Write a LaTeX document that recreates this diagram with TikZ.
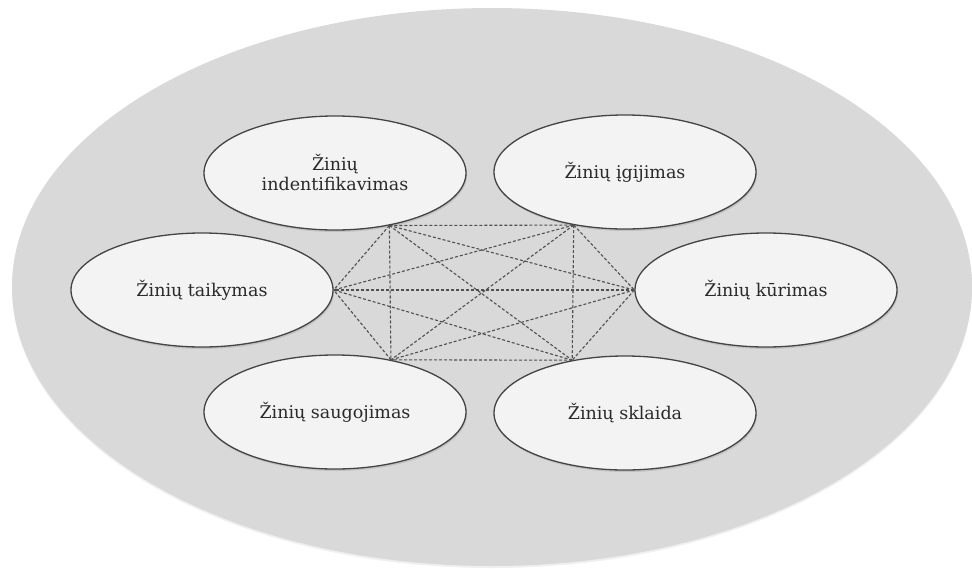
\documentclass[tikz,border=0pt]{standalone}
\usepackage{fontspec}
\setmainfont{DejaVu Serif}
\usetikzlibrary{shapes.geometric,shadows}
\definecolor{bgfill}{HTML}{D9D9D9}
\definecolor{nodefill}{HTML}{F3F3F3}
\definecolor{edgecol}{HTML}{444444}
\definecolor{dashcol}{HTML}{505050}
\definecolor{txtcol}{HTML}{2A2A2A}
\tikzset{
  bigell/.style={ellipse, fill=bgfill, draw=none, minimum width=960pt, minimum height=558pt, inner sep=0pt,
    drop shadow={opacity=0.12, shadow xshift=0pt, shadow yshift=-2pt}},
  zell/.style={ellipse, fill=nodefill, draw=edgecol, line width=1.3pt, minimum width=262pt, minimum height=114pt,
    inner sep=0pt, align=center, text=txtcol, font=\fontsize{17.5}{20}\selectfont,
    drop shadow={opacity=0.25, shadow xshift=1pt, shadow yshift=-2pt}},
  link/.style={draw=dashcol, line width=1.1pt, dash pattern=on 3pt off 2pt}
}
\begin{document}
\begin{tikzpicture}[x=1pt,y=-1pt]
\useasboundingbox (0,0) rectangle (972,568);
\node[bigell] (bg) at (492,287) {};
\node[zell] (ident) at (335,173) {Žinių\\indentifikavimas};
\node[zell] (igij) at (625,172) {Žinių įgijimas};
\node[zell] (taik) at (202,290) {Žinių taikymas};
\node[zell] (kur) at (766,290) {Žinių kūrimas};
\node[zell] (saug) at (335,412) {Žinių saugojimas};
\node[zell] (skl) at (625,413) {Žinių sklaida};
\coordinate (a) at (ident.-44.5);
\coordinate (b) at (igij.-134.5);
\coordinate (c) at (kur.west);
\coordinate (d) at (skl.135.6);
\coordinate (e) at (saug.43.3);
\coordinate (f) at (taik.east);
\foreach \u/\v in {a/b,a/c,a/d,a/e,a/f,b/c,b/d,b/e,b/f,c/d,c/e,c/f,d/e,d/f,e/f}
  \draw[link] (\u) -- (\v);
\end{tikzpicture}
\end{document}
